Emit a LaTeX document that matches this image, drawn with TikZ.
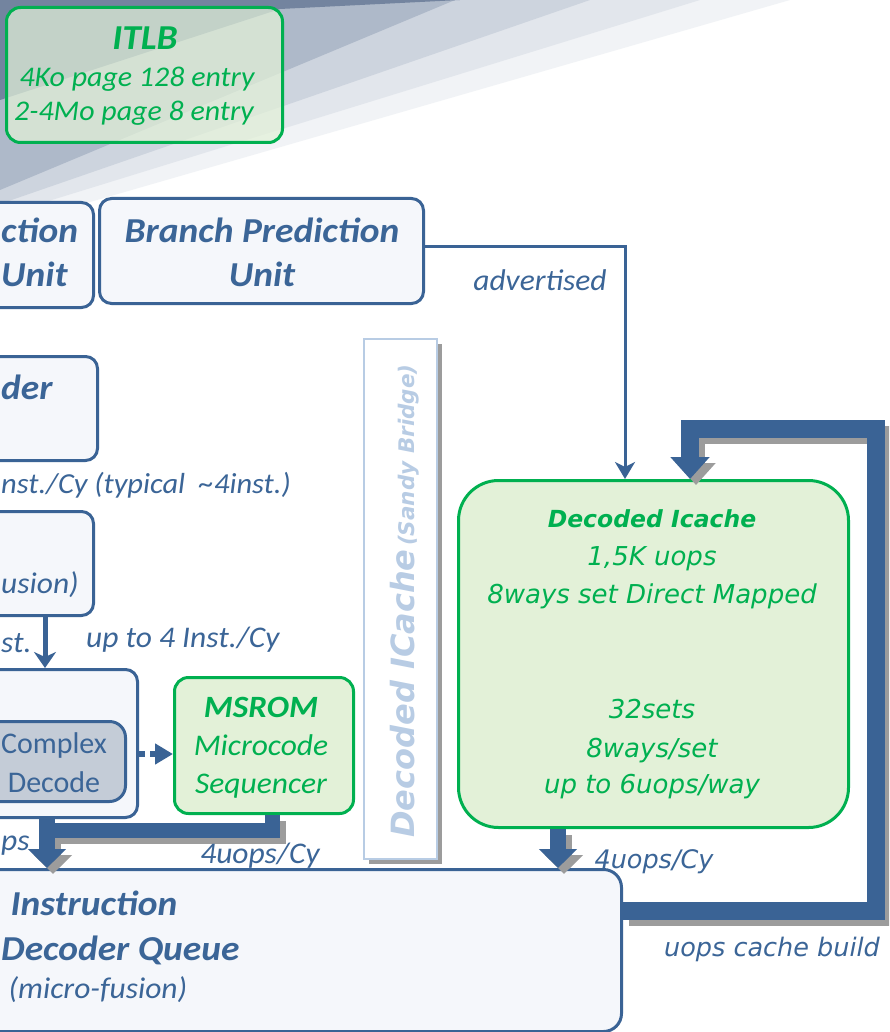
\documentclass[tikz,border=0pt]{standalone}
\usepackage{fontspec}
\setmainfont{Carlito}[ItalicFeatures={FakeStretch=1.05}, BoldItalicFeatures={FakeStretch=1.07}]
\newfontfamily\vfont{DejaVu Sans}
\usetikzlibrary{arrows.meta}
\definecolor{sblue}{HTML}{3A6395}
\definecolor{tblue}{HTML}{3B6597}
\definecolor{sgreen}{HTML}{00B050}
\definecolor{gfill}{HTML}{E3F1D8}
\definecolor{bfill}{HTML}{F5F7FB}
\definecolor{cfill}{HTML}{C4CCD7}
\definecolor{shgray}{HTML}{9C9C9C}
\definecolor{lblue}{HTML}{B8CCE4}
\definecolor{bgA}{HTML}{F1F3F6}
\definecolor{bgA2}{HTML}{E2E6EC}
\definecolor{bgB}{HTML}{CDD4DE}
\definecolor{bgC}{HTML}{AEB9C9}
\definecolor{bgD}{HTML}{73849F}
\newcommand\fs[1]{\fontsize{#1}{#1}\selectfont}
\begin{document}
\begin{tikzpicture}[x=1pt,y=-1pt,
  bluebox/.style={draw=sblue, line width=3pt, fill=bfill, rounded corners=12pt, inner sep=0pt, anchor=north west},
  greenbox/.style={draw=sgreen, line width=3pt, fill=gfill, rounded corners=14pt, inner sep=0pt, anchor=north west},
  bt/.style={text=tblue, font=\bfseries\itshape\fs{35}, inner sep=0pt},
  it/.style={text=tblue, font=\itshape\fs{30}, inner sep=0pt},
  gbt/.style={text=sgreen, font=\bfseries\itshape\fs{31}, inner sep=0pt, anchor=base},
  git/.style={text=sgreen, font=\itshape\fs{30}, inner sep=0pt, anchor=base},
  vgt/.style={text=sgreen, font=\vfont\itshape\fs{26}, inner sep=0pt, anchor=base},
  vt/.style={text=tblue, font=\vfont\itshape\fs{25.5}, inner sep=0pt, anchor=base},
  thinconn/.style={draw=sblue, line width=3pt},
  bar/.style={draw=sblue, line width=16pt, line join=miter},
  barshadow/.style={draw=shgray, line width=16pt, line join=miter, transform canvas={xshift=6pt,yshift=-6pt}},
  bighead/.style={-{Triangle[length=19pt,width=37pt]}}
]
\useasboundingbox (0,0) rectangle (889,1032);
\begin{scope}
\clip (0,0) rectangle (889,1032);
% background swoosh
\fill[white] (0,0) rectangle (889,1032);
\fill[bgA] (0,0) -- (790,0) -- (0,228) -- cycle;
\fill[bgA2] (0,0) -- (700,0) -- (0,216) -- cycle;
\fill[bgB] (0,0) -- (590,0) -- (0,204) -- cycle;
\fill[bgC] (0,0) -- (455,0) -- (0,190) -- cycle;
\fill[bgD] (0,0) -- (460,0) -- (280,9) -- (0,100) -- cycle;

% ITLB
\node[greenbox, fill=gfill, fill opacity=0.72, minimum width=276pt, minimum height=135pt] (itlb) at (5,6) {};
\node[gbt, font=\bfseries\itshape\fs{35}] (itlb1) at (145,50) {ITLB};
\node[git, font=\itshape\fs{28.5}] (itlb2) at (137,87) {4Ko page 128 entry};
\node[git, font=\itshape\fs{28.5}] (itlb3) at (134,121) {2-4Mo page 8 entry};

% partial boxes on the left
\node[bluebox, minimum width=112pt, minimum height=105pt] (ifu) at (-20,201) {};
\node[bt, anchor=base west] (ifu1) at (1,242) {ction};
\node[bt, anchor=base west] (ifu2) at (1,286) {Unit};

\node[bluebox, minimum width=324pt, minimum height=105pt] (bpu) at (98,197) {};
\node[bt, anchor=base] (bpu1) at (262,242) {Branch Prediction};
\node[bt, anchor=base] (bpu2) at (262,286) {Unit};

\node[bluebox, minimum width=116pt, minimum height=104pt] (pre) at (-20,355) {};
\node[bt, anchor=base west] (pre1) at (1,399) {der};
\node[it, anchor=base west, font=\itshape\fs{29}] (lbl1) at (1,493) {nst./Cy (typical\ \ \textasciitilde4inst.)};

\node[bluebox, minimum width=112pt, minimum height=104pt] (fus) at (-20,510) {};
\node[it, anchor=base west] (fus1) at (1,593) {usion)};
\node[it, anchor=base west] (lbl2) at (1,652) {st.};
\node[it, anchor=base west] (lbl3) at (86,647) {up to 4 Inst./Cy};

\node[bluebox, minimum width=156pt, minimum height=148pt] (dec) at (-20,668) {};
\node[bluebox, fill=cfill, minimum width=144pt, minimum height=80pt, rounded corners=16pt] (cd) at (-20,720) {};
\node[text=tblue, font=\fs{30}, inner sep=0pt, anchor=base] (cd1) at (54,753) {Complex};
\node[text=tblue, font=\fs{30}, inner sep=0pt, anchor=base] (cd2) at (54,792) {Decode};

\node[greenbox, minimum width=179pt, minimum height=136pt] (msrom) at (173,676) {};
\node[gbt] (ms1) at (261,717) {MSROM};
\node[git] (ms2) at (261,755) {Microcode};
\node[git] (ms3) at (261,793) {Sequencer};

% vertical Decoded ICache label box
\fill[shgray] (369,344) rectangle (442,864);
\node[draw=lblue, line width=2pt, fill=white, inner sep=0pt, anchor=north west, minimum width=73pt, minimum height=520pt] (vbox) at (363,338) {};
\node[rotate=90, anchor=base, inner sep=0pt, text=lblue, font=\vfont\bfseries\itshape] (vlabel) at (414,601) {{\fs{32}Decoded ICache} {\fs{21.5}(Sandy Bridge)}};

% IDQ
\node[bluebox, rounded corners=18pt, minimum width=640pt, minimum height=162pt] (idq) at (-20,868) {};
\node[bt, anchor=base] (idq1) at (94,915) {Instruction};
\node[bt, anchor=base west] (idq2) at (1,960) {Decoder Queue};
\node[it, anchor=base] (idq3) at (98,998) {(micro-fusion)};

% Decoded Icache
\node[greenbox, rounded corners=40pt, minimum width=390pt, minimum height=347pt] (icache) at (457,479) {};
\node[vgt, font=\vfont\bfseries\itshape\fs{23.5}] (ic1) at (652,527) {Decoded Icache};
\node[vgt] (ic2) at (652,565) {1,5K uops};
\node[vgt] (ic3) at (652,603) {8ways set Direct Mapped};
\node[vgt] (ic4) at (652,718) {32sets};
\node[vgt] (ic5) at (652,757) {8ways/set};
\node[vgt] (ic6) at (652,793) {up to 6uops/way};

% coordinates for connectors
\coordinate (advx) at (625,0);
\coordinate (advy) at (0,246);
\coordinate (ax) at (45,0);
\coordinate (dy) at (0,754);
\coordinate (bx) at (47,0);
\coordinate (mx) at (272,0);
\coordinate (by) at (0,830);
\coordinate (ix) at (558,0);
\coordinate (lr) at (876,0);
\coordinate (lt) at (0,429);
\coordinate (lx) at (690,0);
\coordinate (ly) at (0,911);

% advertised
\draw[thinconn, -{Stealth[length=17pt,width=20pt,inset=5pt]}] (bpu.east |- advy) -| (advx |- icache.north);
\node[it, anchor=base] (adv) at (540,290) {advertised};

% thin arrow into decoder
\draw[thinconn, line width=5pt, -{Stealth[length=16pt,width=22pt,inset=5pt]}] (ax |- fus.south) -- (ax |- dec.north);

% dashed arrow to MSROM
\draw[draw=sblue, line width=6pt, dash pattern=on 6pt off 5pt, -{Triangle[length=18pt,width=20pt]}] (dec.east |- dy) -- (msrom.west |- dy);

% shadows of thick connectors
\draw[barshadow, line width=15pt] (mx |- msrom.south) |- (bx |- by);
\draw[barshadow, bighead] (bx |- dec.south) -- (bx |- idq.north);
\draw[barshadow, bighead] (ix |- icache.south) -- (ix |- idq.north);
\draw[barshadow, line width=18pt, -{Triangle[length=22pt,width=38pt]}] (idq.east |- ly) -| (lr |- lt) -| (lx |- icache.north);

% thick connectors
\draw[bar, line width=15pt] (mx |- msrom.south) |- (bx |- by);
\draw[bar, bighead] (bx |- dec.south) -- (bx |- idq.north);
\draw[bar, bighead] (ix |- icache.south) -- (ix |- idq.north);
\draw[bar, line width=18pt, -{Triangle[length=22pt,width=38pt]}] (idq.east |- ly) -| (lr |- lt) -| (lx |- icache.north);

% labels
\node[it, anchor=base west] (lbl4) at (1,850) {ps};
\node[it, anchor=base] (lbl5) at (260,863) {4uops/Cy};
\node[vt] (lbl6) at (654,868) {4uops/Cy};
\node[vt] (lbl7) at (772,956) {uops cache build};
\end{scope}
\end{tikzpicture}
\end{document}
